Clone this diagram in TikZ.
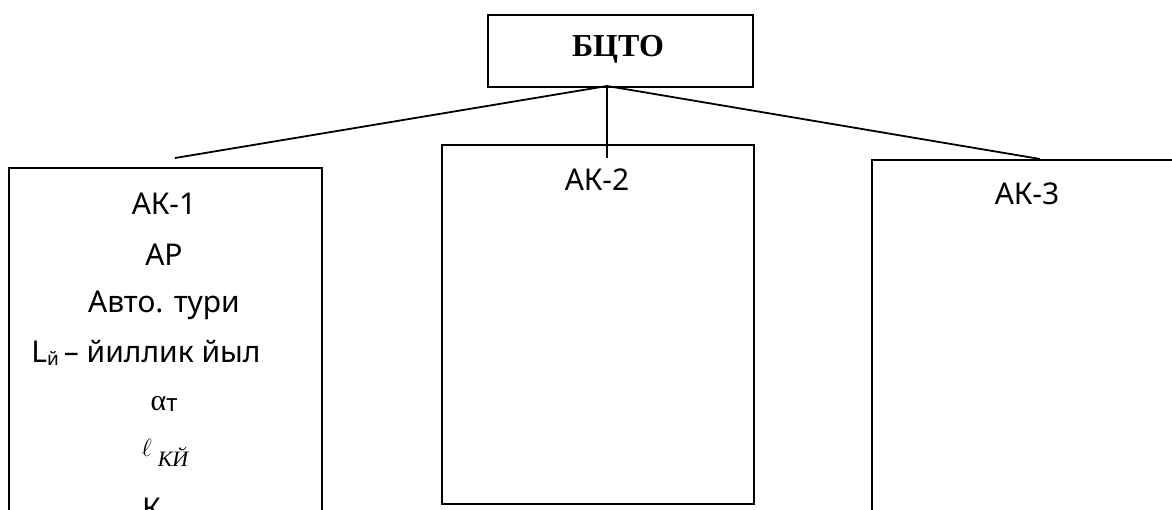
\documentclass[tikz,border=0pt]{standalone}
\usepackage{fontspec}
\setmainfont{Noto Sans}
\newfontfamily\serifcyr{Liberation Serif}
\begin{document}
\begin{tikzpicture}[x=1pt,y=-1pt,
  boxstyle/.style={draw,line width=1.9pt,inner sep=0pt,anchor=north west},
  conn/.style={line width=1.8pt},
  lbl/.style={inner sep=0pt,anchor=base,font=\fontsize{30}{32}\selectfont},
  ]
\useasboundingbox (0,0) rectangle (1172,509);
\clip (0,0) rectangle (1172,509);
\fill[white] (0,0) rectangle (1172,509);
% boxes
\node[boxstyle,minimum width=265pt,minimum height=72pt] (bcto) at (487,14) {};
\node[inner sep=0pt,anchor=base,font=\serifcyr\bfseries\fontsize{32}{34}\selectfont] (bctot) at (618,56) {БЦТО};
\node[boxstyle,minimum width=313pt,minimum height=420pt] (ak1) at (8,167) {};
\node[boxstyle,minimum width=312pt,minimum height=359pt] (ak2) at (441,144) {};
\node[boxstyle,minimum width=400pt,minimum height=420pt] (ak3) at (871,159) {};
% connector ends
\coordinate (top) at (607,86);
\coordinate (e1) at (175,158);
\coordinate (e2) at (607,158);
\coordinate (e3) at (1040,159);
\draw[conn] (top) -- (e1);
\draw[conn] (top) -- (e2);
\draw[conn] (top) -- (e3);
% labels
\node[lbl] (t2) at (597,190) {АК-2};
\node[lbl] (t3) at (1027,204) {АК-3};
\node[lbl] (a1) at (164,214) {АК-1};
\node[lbl] (a2) at (164,265) {АР};
\node[lbl] (a3) at (164,312) {Авто. тури};
\node[lbl] (a4) at (146,362) {L\raisebox{-3pt}{\fontsize{19}{20}\selectfont й}\,– йиллик йыл};
\node[lbl] (a5) at (164,410) {{\serifcyr α}\raisebox{-1pt}{\fontsize{24}{26}\selectfont т}};
\node[lbl] (a6) at (165,456) {\fontsize{33}{35}\selectfont$\ell$\hspace{6pt}\raisebox{-10pt}{\serifcyr\itshape\fontsize{22}{24}\selectfont КЙ}};
\node[lbl] (a7) at (162,519) {К\raisebox{-4pt}{\fontsize{19}{20}\selectfont ур}};
\end{tikzpicture}
\end{document}
